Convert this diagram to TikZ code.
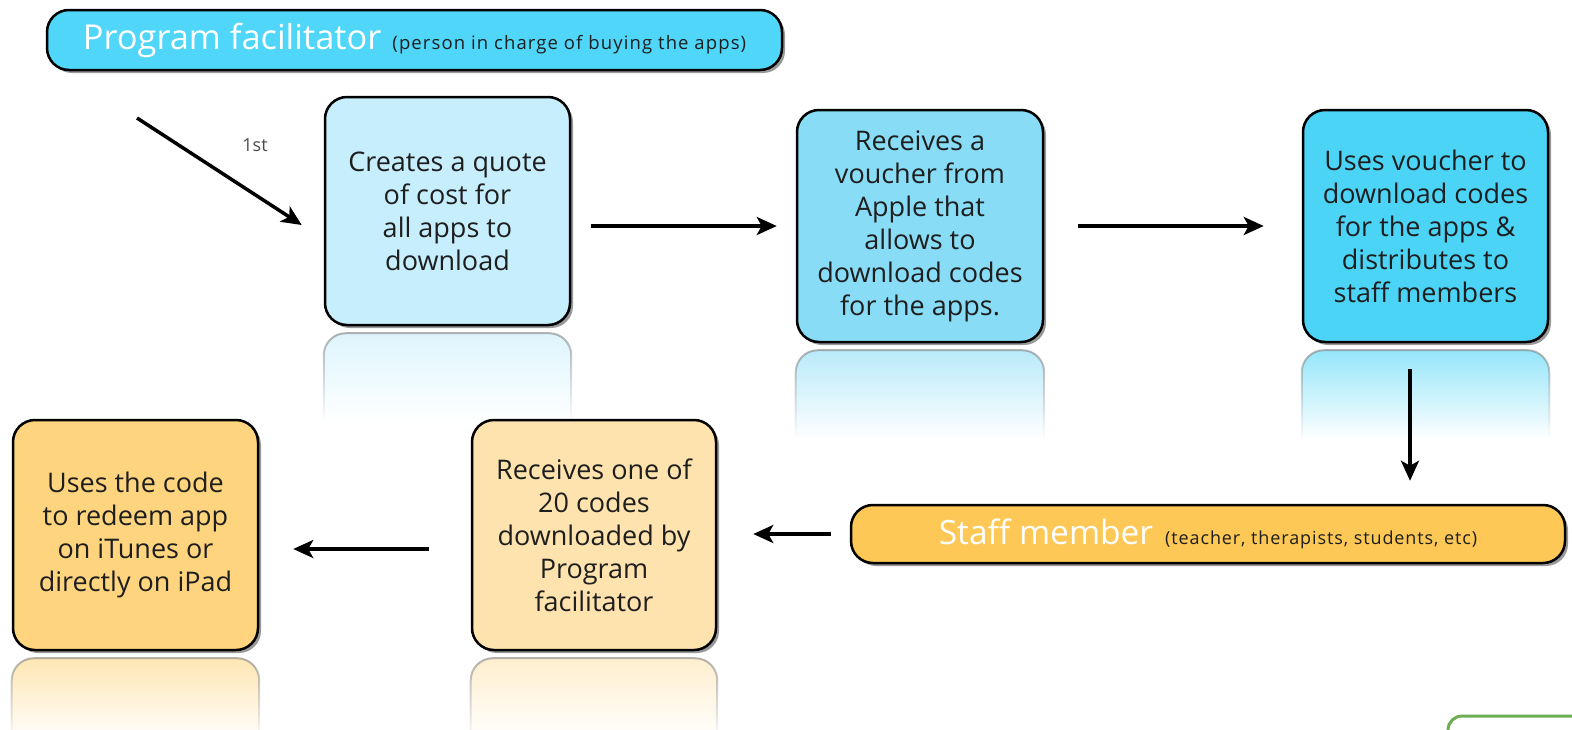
\documentclass[tikz,border=0pt]{standalone}
\usepackage{fontspec}
\setmainfont{Open Sans}
\usetikzlibrary{shadows,fadings,arrows.meta}
\tikzfading[name=reflfade, top color=transparent!40, bottom color=transparent!100]
\definecolor{bannerblue}{HTML}{4FD6F8}
\definecolor{boxA}{HTML}{C6EEFC}
\definecolor{boxB}{HTML}{88DCF6}
\definecolor{boxC}{HTML}{4CD4F7}
\definecolor{banneryel}{HTML}{FDC856}
\definecolor{boxD}{HTML}{FEE3AE}
\definecolor{boxE}{HTML}{FED57E}
\definecolor{txt}{HTML}{1E1E1E}
\definecolor{grn}{HTML}{6DAE52}
\newcommand\mkrefl[3]{\path[fill=#2, draw=black!50, line width=2pt, path fading=reflfade, rounded corners=22pt] ([yshift=-#3]#1.south west) -- ([yshift=-7pt]#1.south west) -- ([yshift=-7pt]#1.south east) -- ([yshift=-#3]#1.south east);}
\tikzset{
  boxstyle/.style={draw=black, line width=2.5pt, rounded corners=22pt, align=center, text=txt,
    font=\fontsize{27}{33}\selectfont, inner sep=0pt,
    drop shadow={shadow xshift=3pt, shadow yshift=-3pt, fill=black, opacity=0.4}},
  bannerstyle/.style={draw=black, line width=2.5pt, rounded corners=22pt, inner sep=0pt,
    drop shadow={shadow xshift=3pt, shadow yshift=-3pt, fill=black, opacity=0.4}},
  arr/.style={line width=3.5pt, -{Stealth[length=20pt,width=18pt,inset=5pt]}},
}
\begin{document}
\begin{tikzpicture}[x=1pt,y=-1pt]
\useasboundingbox (0,0) rectangle (1572,729);
\clip (0,0) rectangle (1572,729);
% banners
\node[bannerstyle, fill=bannerblue, minimum width=735pt, minimum height=60pt] (pf) at (414.5,40)
  {\fontsize{34.4}{35}\selectfont\color{white}Program facilitator\hspace{11pt}\fontsize{18.5}{19}\selectfont\addfontfeature{LetterSpace=6}\color{txt}(person in charge of buying the apps)};
\node[bannerstyle, fill=banneryel, minimum width=714pt, minimum height=58pt] (staff) at (1208,534)
  {\fontsize{33.5}{34}\selectfont\color{white}Staff member\hspace{12pt}\fontsize{18}{18}\selectfont\addfontfeature{LetterSpace=5}\color{txt}(teacher, therapists, students, etc)};
% boxes
\node[boxstyle, fill=boxA, minimum width=245pt, minimum height=228pt] (b1) at (447.5,211)
  {Creates a quote\\of cost for\\all apps to\\download};
\node[boxstyle, fill=boxB, minimum width=246pt, minimum height=232pt] (b2) at (920,226)
  {Receives a\\voucher from\\Apple that\\allows to\\download codes\\for the apps.};
\node[boxstyle, fill=boxC, minimum width=245pt, minimum height=232pt] (b3) at (1425.5,226)
  {Uses voucher to\\download codes\\for the apps \&\\distributes to\\staff members};
\node[boxstyle, fill=boxD, minimum width=244pt, minimum height=230pt] (b4) at (594,535)
  {Receives one of\\20 codes\\downloaded by\\Program\\facilitator};
\node[boxstyle, fill=boxE, minimum width=245pt, minimum height=230pt] (b5) at (135.5,535)
  {Uses the code\\to redeem app\\on iTunes or\\directly on iPad};
% reflections
\mkrefl{b1}{boxA}{95pt}
\mkrefl{b2}{boxB}{95pt}
\mkrefl{b3}{boxC}{95pt}
\mkrefl{b4}{boxD}{90pt}
\mkrefl{b5}{boxE}{90pt}
% connectors
\coordinate (start) at (137,118);
\draw[arr] (start) -- ([xshift=-22pt,yshift=-14pt]b1.west);
\node[font=\fontsize{18}{18}\selectfont, text=black!70] (first) at (255,145) {1st};
\draw[arr, shorten <=20pt, shorten >=19pt] (b1.east |- b2.west) -- (b2.west);
\draw[arr, shorten <=34pt, shorten >=38pt] (b2.east) -- (b2.east -| b3.west);
\draw[arr, shorten <=26pt, shorten >=23pt] ([xshift=-15.5pt]b3.south) -- ([xshift=-15.5pt]b3.south |- staff.north);
\draw[arr, shorten <=19pt, shorten >=36pt] (staff.west) -- (staff.west -| b4.east);
\draw[arr, shorten <=42pt, shorten >=34pt] ([yshift=-14pt]b4.west) -- ([yshift=-14pt]b4.west -| b5.east);
% partial green box
\draw[grn, line width=3pt, rounded corners=14pt] (1448,800) -- (1448,716) -- (1700,716);
\end{tikzpicture}
\end{document}
